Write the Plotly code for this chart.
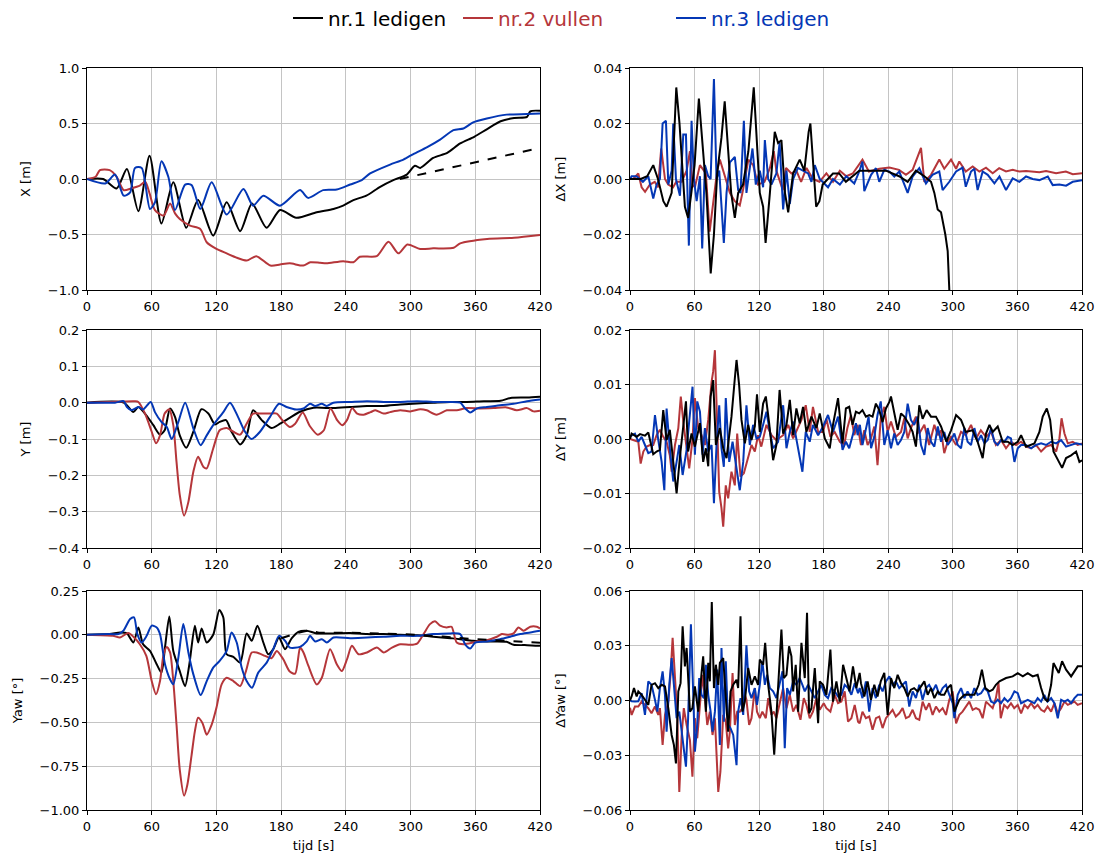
import plotly.graph_objects as go

# ---------------- data ----------------
# X [m]
x1_t = [0, 15, 27.5, 37, 47.6, 58, 69, 80, 92, 103, 117, 129.5, 142, 153, 166.5, 179, 194, 213, 228.5, 237.5, 247, 259, 271.8, 284, 296.5, 304, 309, 321, 334, 346, 359, 371, 383.5, 396, 408, 411, 420]
x1_v = [0, 0, -0.085, 0.09, -0.29, 0.21, -0.40, -0.03, -0.44, -0.19, -0.51, -0.21, -0.47, -0.22, -0.44, -0.28, -0.35, -0.30, -0.27, -0.24, -0.19, -0.15, -0.07, -0.01, 0.04, 0.12, 0.10, 0.19, 0.235, 0.32, 0.38, 0.45, 0.52, 0.55, 0.56, 0.61, 0.615]
x1d_t = [290, 420]
x1d_v = [0.0, 0.28]
x2_t = [0, 8, 12, 21, 27.5, 34, 41, 49, 54, 58, 63, 71, 77, 81.6, 86, 95.5, 105, 111, 120, 129.5, 139, 148, 157, 170, 179, 188, 200.5, 207, 216, 222, 237.5, 247, 253, 268.7, 279.5, 288.7, 297, 308.8, 321, 340, 346, 371, 396, 420]
x2_v = [0, 0.02, 0.08, 0.08, 0.02, -0.10, -0.085, -0.06, -0.025, -0.13, -0.28, -0.33, -0.22, -0.31, -0.36, -0.42, -0.45, -0.57, -0.63, -0.67, -0.71, -0.735, -0.695, -0.78, -0.77, -0.76, -0.78, -0.75, -0.755, -0.76, -0.74, -0.75, -0.70, -0.695, -0.565, -0.67, -0.59, -0.63, -0.625, -0.62, -0.58, -0.54, -0.53, -0.505]
x3_t = [0, 17, 26, 34, 40, 44.5, 50.7, 58.4, 63, 69, 75.4, 81.6, 91, 97, 105, 115.6, 129.5, 145, 154, 163.5, 179, 197.5, 205, 219, 231.6, 244, 254.8, 262.5, 281, 293.4, 302.6, 315, 327.4, 339.7, 349, 358, 370.7, 389, 408, 420]
x3_v = [0, -0.04, 0.04, -0.15, -0.12, 0.10, 0.10, -0.27, -0.21, 0.16, 0.02, -0.28, -0.05, -0.055, -0.27, -0.03, -0.32, -0.09, -0.24, -0.15, -0.24, -0.10, -0.17, -0.10, -0.095, -0.05, -0.01, 0.05, 0.13, 0.175, 0.225, 0.285, 0.355, 0.44, 0.455, 0.51, 0.545, 0.58, 0.585, 0.59]

# dX [m]
dx1_t = [0, 10, 16, 21.6, 26, 31, 34, 38.7, 43, 46, 51, 54, 57, 60, 64, 68, 71, 75, 78, 81, 85, 88, 91, 94, 97.4, 100.5, 105, 110, 115, 118, 120.6, 123.7, 126, 130, 134.5, 137.6, 140.7, 144, 147, 151.5, 157.7, 162, 166, 167.6, 170, 173, 176, 179, 188.6, 194.4, 200.6, 213, 225.4, 237.8, 250, 258, 265.7, 273.5, 279.7, 282.8, 285.9, 289, 293, 295.2, 296.7, 299]
dx1_v = [0, 0, 0.001, 0.005, 0.0, -0.008, -0.010, -0.005, 0.033, 0.020, -0.010, -0.014, -0.005, 0.005, 0.029, 0.010, -0.005, -0.034, -0.020, 0.002, 0.015, 0.028, 0.010, -0.005, -0.014, -0.005, -0.002, 0.010, 0.033, 0.010, -0.005, -0.010, -0.023, -0.005, 0.017, 0.013, 0.014, -0.005, -0.012, 0.002, 0.007, 0.003, 0.017, 0.020, 0.005, -0.010, -0.008, -0.002, 0.002, 0.002, -0.001, 0.003, 0.003, 0.003, 0.001, -0.001, 0.003, 0.001, -0.001, -0.005, -0.011, -0.012, -0.020, -0.026, -0.040, -0.050]
dx2_t = [0, 3, 7.7, 10.8, 14, 18.5, 23, 26, 29, 32.5, 35.5, 40, 43, 48, 52.6, 55.7, 58, 60.3, 65, 70.5, 74, 77, 81, 83.5, 88, 92.8, 97.4, 102, 105, 110, 114.4, 119, 125, 130, 133.6, 136, 142, 145, 150, 154.6, 159, 164, 170, 176, 182.5, 188.6, 195, 201, 207, 216, 222, 231.6, 241, 250, 256.4, 262.6, 270.4, 273.5, 279.7, 287.4, 292, 298.3, 303, 306, 312, 318.4, 324.6, 330.8, 337, 343, 349.4, 355.6, 361.8, 368, 380.4, 386.6, 395.9, 405, 411.4, 420]
dx2_v = [0, 0, 0.002, -0.003, -0.0046, -0.002, -0.001, -0.003, 0.011, 0, -0.002, -0.003, -0.001, -0.001, 0.003, 0.010, -0.002, -0.003, 0.005, 0.002, -0.019, -0.010, 0.003, 0.007, 0.001, -0.005, -0.008, -0.0095, -0.004, 0.007, 0.005, -0.002, -0.001, 0.004, 0.010, 0.003, -0.004, 0.004, 0.002, 0.003, -0.001, 0.004, 0, -0.001, 0.002, -0.001, 0.003, 0.001, 0.002, 0.007, 0.0027, 0.0037, 0.0041, 0.0033, 0.0015, 0.0033, 0.0112, -0.001, 0.0015, 0.007, 0.0037, 0.007, 0.0037, 0.0063, 0.0027, 0.0045, 0.0027, 0.0041, 0.0021, 0.0039, 0.0027, 0.0033, 0.0027, 0.0029, 0.0024, 0.0029, 0.0021, 0.0027, 0.0017, 0.0021]
dx3_t = [0, 1.5, 6, 12, 17, 21.6, 24.7, 27.8, 30.3, 33.4, 35.6, 38.7, 40.2, 42.7, 46.4, 49.5, 52, 54.7, 57.2, 59.4, 61.9, 65, 67.1, 69.6, 72.7, 74.9, 78, 80.4, 82.9, 85, 87.2, 89.7, 92.8, 97.4, 100.5, 102.7, 105.8, 108.2, 110.7, 113.8, 116.9, 120.6, 123.7, 125.3, 128.4, 131.4, 136, 139, 142.3, 145.4, 148.5, 151.6, 156, 160.8, 165.5, 168.6, 171.7, 176.3, 181, 184, 188.6, 195, 201, 207, 208.4, 213, 216, 217.7, 224, 228.5, 231.6, 236.3, 241, 245.6, 250.2, 258, 262.6, 268.8, 275, 281, 287.4, 290.5, 296.7, 303, 309, 312, 316.9, 320, 323, 327.7, 332.4, 338.6, 343.3, 349.4, 355.6, 361.8, 368, 374.2, 380.4, 388.2, 392.8, 399, 405.2, 411.4, 420]
dx3_v = [0, 0.001, 0.001, -0.001, 0.001, -0.007, -0.002, 0, 0.020, 0.021, -0.002, 0.003, 0.020, 0, -0.006, 0.016, 0.016, -0.024, 0.021, 0, -0.008, 0.001, -0.025, 0.005, 0.001, 0, 0.036, 0, 0.003, -0.010, -0.023, -0.005, 0.006, 0.008, -0.004, -0.005, 0.021, -0.005, 0.002, 0.011, -0.002, 0.003, -0.003, 0.014, 0, -0.002, 0.002, 0.013, -0.011, 0.003, -0.009, 0, 0.004, 0.003, 0.002, -0.001, 0.005, 0, -0.002, -0.003, 0, -0.002, 0.001, -0.001, -0.0016, 0.0027, 0.0063, -0.0044, 0.0015, 0.0039, -0.001, 0.0033, 0.0027, 0.0009, 0.0027, -0.005, 0.0009, 0.0039, -0.0016, 0.0015, 0.0027, -0.004, -0.001, 0.0027, 0.0041, -0.0028, 0.0027, 0.0037, -0.004, 0.0027, 0.0015, -0.0016, 0.0009, -0.004, 0.0002, -0.001, 0.0009, 0, -0.0004, 0.0009, -0.0022, -0.002, -0.0024, -0.001, -0.0004]

# Y [m]
y1_t = [0, 34, 43, 47.6, 55, 61.5, 67.7, 72, 77, 81.6, 86, 92, 98.6, 106, 112.5, 118.7, 123, 128.9, 134, 142, 148, 154, 162, 171, 179, 188, 197.5, 210, 228.5, 244, 259.6, 275, 290.5, 306, 321, 336.7, 352, 368, 383.4, 392.7, 408, 420]
y1_v = [0, 0, -0.026, -0.012, -0.035, -0.062, -0.088, -0.076, -0.016, -0.039, -0.09, -0.124, -0.08, -0.018, -0.03, -0.06, -0.053, -0.048, -0.08, -0.115, -0.09, -0.021, -0.048, -0.07, -0.058, -0.042, -0.025, -0.014, -0.015, -0.012, -0.009, -0.009, -0.005, -0.002, 0, 0.002, 0.002, 0.004, 0.005, 0.013, 0.014, 0.016]
y2_t = [0, 20, 44.5, 47.6, 53.8, 60, 64, 67.7, 72, 76.3, 80, 83, 86, 90, 94, 98.6, 103, 108, 111, 117, 123, 129.5, 135.7, 142, 148, 154, 162, 169.7, 176, 180.5, 188, 193, 200, 206.7, 214, 219.6, 225.7, 231.9, 236.6, 241, 245.8, 250.5, 256.6, 263, 267.4, 275, 281, 290.5, 299.7, 309, 315, 324, 333.6, 342.8, 352, 364.6, 377, 389, 398.5, 408, 414, 420]
y2_v = [0, 0.002, 0.004, 0.002, -0.03, -0.08, -0.112, -0.09, -0.03, -0.018, -0.062, -0.163, -0.254, -0.311, -0.273, -0.19, -0.149, -0.177, -0.181, -0.126, -0.076, -0.07, -0.08, -0.088, -0.058, -0.03, -0.03, -0.03, -0.03, -0.046, -0.067, -0.058, -0.027, -0.065, -0.088, -0.076, -0.016, -0.048, -0.062, -0.048, -0.015, -0.03, -0.033, -0.026, -0.021, -0.03, -0.026, -0.021, -0.024, -0.018, -0.021, -0.033, -0.021, -0.021, -0.015, -0.016, -0.015, -0.013, -0.021, -0.015, -0.024, -0.022]
y3_t = [0, 26, 34, 37, 41.4, 47.6, 52, 59, 63, 69, 74, 78.5, 84.7, 91, 98.6, 105.4, 111, 117, 126.4, 132.6, 140, 146.5, 152.7, 160.4, 169.7, 178, 185, 194, 200.7, 206.8, 211.5, 217.7, 222.3, 228.5, 244, 259.6, 275, 290.5, 306, 321, 336.7, 346, 350.6, 355.3, 361.4, 370.7, 383, 395.5, 408, 420]
y3_v = [0, 0, 0.004, -0.012, -0.021, -0.012, -0.019, 0.002, -0.026, -0.053, -0.067, -0.10, -0.053, 0, -0.071, -0.117, -0.09, -0.062, -0.026, 0, -0.039, -0.08, -0.10, -0.08, -0.039, -0.003, -0.012, -0.019, -0.016, -0.003, -0.009, -0.003, -0.009, 0, 0.002, 0.004, 0.002, 0.002, 0.004, 0.002, 0.002, 0, -0.016, -0.027, -0.016, -0.012, -0.007, -0.003, 0.004, 0.009]

# dY [m]
dy1_t = [0, 1.5, 6.2, 9.3, 13.9, 17, 21.6, 24.7, 27.8, 30.9, 34, 37, 40.2, 43.3, 46.4, 49.5, 52, 54, 57.2, 60.3, 65, 68, 70.5, 72.7, 74.9, 77.3, 79.8, 83.5, 86.6, 89.7, 94.3, 97.4, 99, 101.4, 103.6, 106.7, 109.8, 112.9, 116, 118, 120.6, 123.7, 126.2, 129.3, 133, 136, 139, 142.3, 145.4, 148.5, 151.6, 154.6, 157.7, 160.8, 163.9, 168.6, 173.2, 176.3, 181, 185.6, 188.6, 193.3, 197.5, 200.6, 203.7, 206.8, 209.9, 213, 216, 219.2, 222.3, 225.4, 228.5, 231.6, 234.7, 237.8, 241, 242.5, 245.6, 248.7, 251.8, 254.9, 259.5, 262.6, 265.7, 268.8, 271.9, 275.6, 279.7, 284.3, 289, 294, 298.3, 303, 307.6, 312, 318.4, 323, 327.7, 330.8, 334, 337, 341.7, 346.3, 351, 355.6, 360.3, 363.4, 368, 372.7, 375.8, 380.4, 383.5, 387.3, 390.4, 393.5, 397.5, 401.5, 405.2, 409.9, 414.5, 417.6, 420]
dy1_v = [0, 0.001, 0.0004, 0.0009, 0.0006, 0.0012, -0.0028, -0.0023, -0.002, 0.0053, -0.0002, 0.0017, -0.0042, -0.01, -0.0033, 0.0023, 0.0069, -0.0023, 0.001, -0.0014, 0.0029, -0.0042, -0.0017, -0.005, 0.0078, 0.0108, -0.0011, 0.002, -0.0017, -0.0035, 0.0041, 0.0111, 0.0145, 0.0099, 0.0035, -0.0008, 0.0026, -0.0002, 0.0023, 0.0082, 0.0013, 0.0065, 0.0078, 0.0029, -0.0039, -0.0011, 0.009, 0.001, 0.0026, 0.0072, 0.0007, 0.0056, 0.0029, 0.0059, 0.0013, 0.0041, 0.002, 0.0047, 0.0001, -0.0017, 0.0026, 0.0075, -0.0008, 0.0056, 0.0059, 0.0026, 0.005, 0.0047, 0.0053, 0.0041, 0.0044, 0.0041, 0.0065, 0.0053, 0.0031, 0.0056, 0.0068, 0.0078, 0.0044, 0.0017, 0.0047, 0.0041, 0.0026, 0.0013, -0.0014, 0.0062, 0.0037, 0.0053, 0.0041, 0.0041, 0.0023, -0.0005, 0.0016, 0.0044, 0.0035, 0.0013, 0.0016, -0.0005, -0.0035, 0.001, 0.0026, 0.0013, 0.0023, -0.0005, -0.0005, -0.0011, -0.0005, 0.0007, -0.0014, -0.0011, -0.0008, 0.0013, 0.0041, 0.0056, 0.0035, -0.0023, -0.0039, -0.0053, -0.0035, -0.003, -0.0023, -0.0042, -0.0039]
dy2_t = [0, 1.5, 4.6, 7.7, 9.9, 12.4, 15.5, 18.6, 21.6, 24.7, 27.8, 30.9, 34, 37, 38.7, 41.8, 44.9, 47.2, 49.5, 52.6, 55, 58, 60.3, 63.4, 66.5, 69.6, 72.7, 75.8, 77.3, 78.9, 81, 82.9, 85, 86.6, 89, 91.2, 94.3, 97.4, 99.6, 102.7, 105.8, 109.8, 112.9, 116, 119, 122, 126.8, 131.5, 136, 142.3, 147, 151.6, 156.2, 159.3, 163.3, 167, 170, 174.8, 179.4, 182.5, 186.2, 190.2, 195, 199, 202, 205.3, 208.4, 211.5, 214.6, 217.7, 220.8, 223.9, 227, 230, 233, 236.3, 239.4, 242.5, 247, 251.8, 254.9, 258, 261, 265.7, 268.8, 273.5, 278, 282.8, 286, 289, 292, 295.2, 298.3, 303, 307.6, 312, 316.9, 321.5, 326, 330.8, 335.5, 340, 344.8, 349.4, 354, 358.7, 363.4, 368, 372.7, 377.3, 382, 386.6, 391.3, 396, 399, 401, 403.7, 406.8, 411.4, 416, 420]
dy2_v = [0, -0.0001, -0.0002, -0.0005, -0.0045, -0.0023, -0.0014, -0.0011, -0.0011, 0.0007, 0.0017, 0.0004, -0.0005, -0.003, -0.006, -0.0011, 0.002, 0.0078, 0.0032, -0.0023, -0.0054, -0.0002, 0.0075, 0.002, 0.0007, -0.0011, 0.0035, 0.0105, 0.0124, 0.0163, 0.0032, -0.0097, -0.0127, -0.0161, -0.0085, -0.0109, -0.006, -0.0085, 0.001, -0.0069, -0.0063, -0.0035, -0.0011, -0.0023, 0.0007, -0.0014, 0.0026, 0.0007, -0.0002, 0.0007, 0.0026, 0.0001, 0.002, 0.0035, 0.0062, 0.0013, 0.0059, 0.0013, 0.0013, 0.0037, 0.0004, 0.0013, -0.0005, -0.0011, 0.002, 0.0044, 0.0007, 0.0026, -0.0011, 0.0016, -0.0011, 0.0001, 0.0023, -0.0048, 0.0038, 0.0059, 0.0013, 0.0032, 0.0004, 0.0013, 0.0038, 0.0001, 0.002, 0.0041, 0.001, 0.0026, -0.0011, 0.0026, 0.0007, 0.0016, -0.0026, -0.0005, 0.0004, -0.0011, 0.0013, 0.0007, 0.0026, 0.0001, 0.0016, 0.0004, 0.0013, -0.0011, -0.0002, -0.0017, -0.0005, -0.0011, -0.0005, -0.0014, -0.0017, -0.0011, -0.0023, -0.0014, -0.0011, -0.0023, 0.0001, 0.0038, 0.001, -0.0008, -0.0005, -0.0011, -0.0008]
dy3_t = [0, 1.5, 4.6, 7.7, 10.8, 13.9, 17, 20, 23.2, 26.3, 29.4, 31.9, 34, 37, 40.2, 43.3, 45.8, 48.9, 52.6, 55, 58.1, 60.3, 62.5, 65, 67.4, 69.6, 72.7, 75.8, 78, 80.4, 82.9, 85, 87.2, 89, 92.2, 95.3, 98.4, 102, 105.2, 108.2, 111.3, 114.4, 117.5, 120.6, 123.7, 126.8, 130, 133, 137.6, 142.3, 145.4, 148.5, 151.6, 154.6, 157.7, 160.2, 163.3, 167, 170, 174.8, 179.4, 184, 188.6, 193.3, 197.5, 200.6, 203.7, 206.8, 209.9, 211.5, 213.6, 216, 219.2, 221.7, 224, 227, 230, 233, 236.3, 239.4, 242.5, 245.6, 248.7, 251.8, 254.9, 258, 261, 264, 267.3, 270.4, 273.5, 276.6, 279.7, 282.8, 286, 289, 292, 295.2, 298.3, 301.4, 304.5, 307.6, 310.7, 313.7, 316.9, 320, 323, 326.2, 329.3, 332.4, 335.5, 338.6, 341.7, 344.8, 347.9, 351, 354, 357.2, 360.3, 363.4, 368, 372.7, 377.3, 382, 386.6, 391.3, 396, 400.6, 405.2, 409.9, 414.5, 420]
dy3_v = [0.0005, 0.0007, 0.001, -0.0005, 0.0004, -0.0011, -0.0026, -0.0023, 0.0044, -0.0002, -0.0042, -0.0094, 0.0056, -0.0017, -0.0078, -0.0042, -0.0011, -0.0066, -0.002, 0.0032, 0.0096, -0.0029, 0.0069, 0.005, -0.0029, 0.002, -0.0023, -0.0011, -0.0118, -0.0011, 0.0062, -0.0017, -0.0051, 0.0075, -0.0042, -0.0005, -0.0048, -0.0094, -0.0042, 0.0062, -0.0011, 0.0026, 0.0001, 0.0004, 0.0026, 0.005, 0.0013, -0.0017, -0.0005, 0.0062, -0.0017, 0.0013, 0.0032, 0.0001, -0.0029, -0.006, 0.0013, -0.0005, 0.0026, 0.0007, 0.0023, 0.0044, 0.0013, 0.0041, -0.002, -0.0005, -0.0017, 0.0004, 0.0029, 0.0007, 0.0026, -0.0011, 0.002, 0.0041, -0.0017, 0.0004, 0.0044, 0.0069, -0.0011, 0.0016, -0.0017, 0.001, -0.0011, -0.0002, 0.0013, 0.0065, 0.0035, 0.0026, 0.0041, -0.0011, -0.0029, 0.002, -0.0005, -0.0014, 0.0023, -0.0005, 0.0013, -0.0011, -0.0002, 0.001, -0.0011, -0.0017, 0.002, -0.0005, -0.0011, 0.002, -0.0005, 0.0007, -0.0008, -0.0002, 0.002, -0.0005, -0.0011, -0.0002, -0.0005, 0.0004, 0.0001, -0.0042, -0.0017, -0.0011, -0.0011, -0.0017, -0.0011, -0.0008, -0.0011, -0.0005, -0.0008, -0.0002, -0.0014, -0.0011, -0.0008, -0.001]

# Yaw [deg]
yaw1_t = [0, 21, 30.6, 37, 43, 47.6, 52, 58.4, 64.6, 69, 72.3, 76.3, 80, 86, 90.9, 94.9, 100, 103, 106.3, 111, 117, 122.7, 126.4, 129.5, 135.7, 142, 148, 152.7, 158, 163.5, 168, 172.7, 178, 183.6, 189.7, 196, 203.7, 213, 228.5, 244, 259.6, 275, 290.5, 306, 321, 337, 346, 358, 370.7, 389, 395.5, 408, 420]
yaw1_v = [0, 0.004, 0.013, 0.008, -0.044, 0.042, -0.054, -0.092, -0.168, -0.216, -0.073, 0.105, -0.092, -0.207, -0.293, -0.168, 0.052, -0.044, 0.036, -0.044, 0, 0.142, 0.099, -0.111, -0.126, -0.159, 0.008, -0.034, 0.052, -0.044, -0.111, -0.082, -0.015, -0.082, -0.021, 0.017, 0.023, 0.008, 0.008, 0.01, 0.004, 0.004, 0, -0.002, -0.011, -0.019, -0.025, -0.034, -0.038, -0.04, -0.057, -0.059, -0.063]
yaw1d_t = [180, 195, 205, 215, 240, 270, 300, 330, 360, 390, 420]
yaw1d_v = [-0.02, 0.01, 0.025, 0.012, 0.012, 0.008, 0.002, -0.01, -0.025, -0.035, -0.045]
yaw2_t = [0, 24, 30.6, 38.3, 43, 49, 55, 60, 64, 67.7, 70.8, 74, 77, 80, 83, 86, 90, 93, 97, 100, 103, 107, 111, 115.6, 120, 124.8, 129.5, 135.7, 142, 147.4, 152.7, 157.3, 165, 171, 176, 182, 188, 193, 197.6, 200.7, 205.3, 213, 217.7, 225.4, 231.6, 236.3, 241, 245.6, 251.8, 259.6, 268.8, 275, 282.8, 290.5, 299.7, 306, 312, 318, 322.7, 327.4, 333.5, 338, 342.8, 349, 358, 364.4, 370.7, 380, 384.6, 390.8, 395.5, 400, 404.7, 411, 417, 420]
yaw2_v = [0, -0.006, -0.015, 0.01, -0.011, -0.054, -0.12, -0.264, -0.34, -0.264, -0.12, -0.069, -0.10, -0.264, -0.513, -0.77, -0.918, -0.857, -0.685, -0.551, -0.474, -0.503, -0.57, -0.513, -0.417, -0.283, -0.245, -0.264, -0.293, -0.207, -0.101, -0.101, -0.12, -0.134, -0.092, -0.14, -0.21, -0.222, -0.073, -0.101, -0.178, -0.283, -0.245, -0.082, -0.168, -0.207, -0.141, -0.063, -0.111, -0.101, -0.073, -0.101, -0.073, -0.054, -0.057, -0.05, 0.004, 0.061, 0.077, 0.052, 0.042, 0.046, -0.044, -0.054, -0.044, -0.034, -0.031, -0.011, 0.004, 0, 0.008, 0.042, 0.023, 0.046, 0.046, 0.036]
yaw3_t = [0, 21, 29, 33.7, 40, 43.6, 46.7, 50.7, 55.3, 60, 64.6, 67.7, 72.3, 77, 80, 84.7, 89.3, 94, 98.6, 105.4, 111, 117, 123, 129.5, 134, 138.8, 143.4, 148, 153, 158.8, 166.6, 172.7, 178, 183.6, 188, 197.5, 203.7, 206.8, 211.5, 217.7, 222.3, 228.5, 244, 259.6, 275, 290.5, 306, 321, 336.6, 346, 350.6, 355.3, 360, 370.7, 383, 392.4, 401.7, 411, 420]
yaw3_v = [0, 0.004, 0.004, 0.023, 0.09, 0.099, 0.004, -0.044, -0.006, 0.052, 0.042, 0.004, -0.168, -0.254, -0.283, -0.130, 0.061, -0.101, -0.226, -0.344, -0.264, -0.187, -0.149, -0.092, 0.013, -0.044, -0.187, -0.264, -0.302, -0.216, -0.159, -0.082, -0.006, -0.034, -0.073, -0.069, -0.038, -0.006, -0.038, -0.025, -0.044, -0.015, -0.019, -0.015, -0.011, -0.006, -0.006, 0.004, 0.008, 0.004, -0.054, -0.078, -0.044, -0.038, -0.025, -0.011, 0.004, 0.013, 0.023]

# dYaw [deg]
dyaw1_t = [0, 1.5, 3.7, 6.2, 7.7, 10.8, 13.9, 17, 20, 23.2, 26.3, 29.4, 32.5, 35.6, 38.7, 40.8, 42.7, 44.9, 47, 48.9, 51, 52.6, 55.7, 58, 60.3, 63.4, 66.5, 68, 70.5, 72.7, 74.2, 76, 78, 79.8, 82, 83.5, 86.6, 89, 91.2, 93.4, 95.9, 99, 100.5, 102.7, 104.5, 106.7, 109.8, 112.9, 116, 119, 120.6, 123.7, 125.6, 128.4, 131.4, 134, 136, 138.6, 140.7, 142.9, 145.4, 147.8, 150, 151.6, 154, 156.2, 159.3, 162.4, 164.5, 166.4, 168.6, 171.7, 174.8, 176.3, 179.4, 182.5, 186.2, 188.6, 191.8, 194.9, 198, 201, 204, 207.2, 210.3, 213.4, 214.6, 217.7, 220.8, 223.9, 227, 230, 233, 236.3, 239.4, 242.5, 245.6, 248.7, 251.8, 254.9, 258, 261, 264, 267.3, 270.4, 273.5, 276.6, 279.7, 282.8, 286, 289, 292, 295.2, 298.3, 301.4, 306, 310.7, 315.3, 320, 324, 327, 330.2, 334, 337, 340, 343.3, 349.4, 355.6, 360.3, 365, 369.6, 374.2, 378.8, 382, 385, 388, 391.3, 393.5, 396, 398.4, 401.5, 405.2, 409.9, 413, 416, 420]
dyaw1_v = [0, 0.0022, 0.0068, 0.0022, 0.005, 0.0031, 0.0004, -0.0024, 0.0086, 0.0095, 0.0068, 0.0086, 0.0077, -0.0042, -0.0189, -0.0244, -0.0345, 0.005, 0.0095, 0.0407, 0.0187, 0.0288, -0.0061, -0.0042, 0.0077, -0.0061, 0.0151, 0.0242, -0.0061, 0.0206, 0.0105, 0.054, 0.0068, 0.0196, 0.0086, 0.0206, 0.0233, 0.0031, -0.0171, 0.005, 0.0086, 0.0114, 0.0068, 0.0462, -0.0061, -0.0006, 0.0178, 0.0086, 0.0132, 0.0086, 0.0224, 0.0196, 0.0316, 0.0086, -0.0061, -0.0297, -0.0097, 0.016, 0.0389, 0.0123, 0.0141, 0.0297, 0.0242, 0.005, 0.0196, -0.0061, 0.0316, 0.0123, 0.0481, -0.007, -0.0042, 0.0178, -0.0125, 0.0105, 0.0086, 0.0031, 0.0279, -0.0006, 0.0105, -0.0006, 0.0196, 0.0123, 0.005, 0.0187, 0.0068, 0.0151, 0.0095, 0.0022, 0.0105, 0.0004, 0.0086, 0.0022, 0.0105, 0.0151, -0.0079, 0.0123, 0.0068, 0.0141, 0.0095, 0.0068, 0.0022, 0.0059, 0.0068, 0.005, 0.0077, 0.0105, 0.0031, 0.0068, 0.0013, 0.005, 0.0031, 0.0031, 0.0068, 0.0086, -0.0061, 0.0004, 0.0031, 0.0031, 0.0031, 0.0086, 0.0169, 0.0068, 0.005, 0.0059, 0.0086, 0.0105, 0.0123, 0.0132, 0.015, 0.0132, 0.015, 0.0132, 0.0141, 0.0068, 0.0013, -0.0006, 0.0086, 0.0205, 0.0178, 0.0151, 0.0215, 0.0169, 0.0132, 0.016, 0.0187, 0.0187]
dyaw2_t = [0, 1.5, 4.6, 7.7, 10.8, 13.9, 17, 20, 23.2, 26.3, 27.8, 30.3, 32.5, 35.6, 37.7, 39.6, 41.8, 43.9, 45.8, 48, 50, 52.6, 55.7, 58, 60.3, 62.5, 65, 67.4, 69.6, 71.8, 74.2, 76.7, 78.9, 82, 84, 86.6, 89, 91.2, 92.8, 95.3, 97.4, 99.6, 102, 104.5, 106.7, 108.2, 110.7, 112.9, 116, 118, 120.6, 123, 126.2, 128.4, 131.4, 133.6, 136, 139, 142.3, 145.4, 148.5, 151.6, 154.6, 158.4, 161.5, 163.9, 167, 170, 173.2, 176.3, 180, 182.5, 186.2, 190.2, 193.3, 196.4, 199.5, 202.6, 205.7, 208.8, 211.9, 213.4, 216, 219.2, 222.3, 225.4, 228.5, 231.6, 234.7, 237.8, 241, 244, 247, 250.2, 253.3, 256.4, 259.5, 262.6, 265.7, 268.8, 271.9, 275, 278, 281.2, 284.3, 287.4, 290.5, 293.6, 296.7, 299.8, 303, 306, 309, 312, 315.3, 318.4, 321.5, 324.6, 327.7, 330.8, 334, 337, 340, 342.4, 344.5, 347.6, 350.8, 354, 357, 360.3, 363.4, 366.5, 369.6, 372.7, 375.8, 378.8, 382, 385, 388, 391.3, 394.4, 397.5, 400.6, 403.7, 406.8, 409.9, 413, 416, 420]
dyaw2_v = [-0.004, -0.0079, -0.0033, -0.0033, -0.0006, -0.0024, -0.0042, -0.007, -0.0033, -0.0079, -0.0042, -0.0244, -0.0079, -0.0006, 0.0141, 0.0343, 0.0086, -0.0079, -0.0501, -0.0189, -0.0042, -0.0134, -0.0217, -0.0418, -0.0097, -0.0207, -0.0024, 0.0141, 0.0013, -0.0134, -0.0061, -0.0189, -0.0097, -0.0501, -0.039, -0.0079, -0.0116, -0.0262, -0.0171, 0.0151, -0.0134, -0.0061, -0.0061, -0.0042, 0.0031, 0.0004, -0.0134, -0.0097, 0.0068, -0.0061, -0.0097, -0.0061, -0.0097, 0.0013, -0.0079, -0.0061, -0.0097, -0.0024, 0.0068, -0.0042, 0.0031, -0.0061, -0.0024, -0.0106, 0.0013, -0.0024, -0.0097, -0.0061, 0.0013, -0.0051, -0.0015, -0.0042, -0.0061, 0.0031, -0.0015, -0.0006, 0.005, -0.0116, -0.0097, -0.0024, -0.0116, -0.0125, -0.0061, -0.0097, -0.0088, -0.016, -0.0097, -0.0088, -0.0151, -0.0097, -0.007, -0.0051, -0.0088, -0.007, -0.0042, -0.0097, -0.0088, -0.0051, -0.0097, -0.0106, -0.0006, -0.0051, -0.0015, -0.0079, -0.0033, -0.0061, -0.0042, -0.0079, 0.0004, 0.005, -0.0125, -0.0079, -0.0061, -0.0033, -0.0006, -0.0051, -0.0042, -0.0051, -0.0097, -0.0006, -0.0024, -0.0042, 0.0013, 0.0095, -0.0097, -0.0024, -0.0042, -0.0015, -0.0042, -0.0024, -0.007, -0.0024, -0.0042, -0.0015, -0.0042, -0.0024, -0.0051, -0.0061, -0.0033, -0.0061, -0.0015, -0.007, -0.0042, -0.0006, -0.0024, -0.0015, -0.0006, -0.0024, -0.0015]
dyaw3_t = [0, 1.5, 4.6, 7.7, 10.8, 13.9, 17, 20, 23.2, 25.4, 27.8, 30.3, 32.5, 34, 36.5, 38.7, 40.8, 43.3, 45.8, 48, 50, 52, 54, 56.6, 58.8, 60.3, 62.5, 64.3, 66.5, 68.7, 70.5, 72.7, 74.9, 76.7, 78.9, 81, 83.5, 85, 87.2, 89, 91.2, 93.4, 95.9, 99, 100.5, 102.7, 105.2, 108.2, 110.7, 112.9, 116, 118, 120.6, 123, 125.3, 127.4, 130, 133, 136, 138.6, 141.7, 143.8, 146, 148.5, 151.6, 154.6, 157.7, 160.2, 162.4, 165.5, 168.6, 171.7, 174.8, 177.8, 181, 184, 187, 190.2, 193.3, 196.4, 199.5, 202.6, 205.7, 208.8, 211.9, 213.4, 216, 219.2, 222.3, 225.4, 228.5, 231.6, 234.7, 237.8, 241, 244, 247, 250.2, 253.3, 256.4, 259.5, 262.6, 265.7, 268.8, 271.9, 275, 278, 281.2, 284.3, 287.4, 290.5, 293.6, 296.7, 299.8, 301.4, 304.5, 307.6, 310.7, 313.7, 316.9, 320, 323, 326.2, 329.3, 332.4, 335.5, 338.6, 341.7, 344.8, 347.9, 351, 354, 357.2, 360.3, 363.4, 366.5, 369.6, 372.7, 375.8, 378.8, 382, 385, 388, 391.3, 394.4, 397.5, 400.6, 403.7, 406.8, 409.9, 413, 416, 420]
dyaw3_v = [0, -0.0004, -0.0006, -0.0004, 0.004, -0.0079, 0.0105, 0.0086, 0.0004, -0.0061, 0.0068, 0.016, 0.0031, -0.0171, 0.0086, 0.0233, 0.0086, -0.0097, -0.0061, -0.0171, -0.0281, -0.0363, -0.0097, 0.0417, 0.0031, -0.0281, -0.0134, 0.0123, 0.0031, 0.0013, 0.0196, 0.0031, -0.0061, -0.0171, -0.0061, 0.0169, -0.0244, 0.0288, -0.0116, 0.0215, -0.0134, -0.0152, -0.0189, -0.0354, -0.0061, 0.0013, -0.0079, 0.0303, 0.005, 0.0013, 0.0068, -0.0024, 0.0086, 0.0215, 0.0086, 0.0141, 0.0068, 0.005, 0.0013, 0.0086, 0.016, -0.0262, 0.0068, 0.0031, 0.0105, 0.0086, 0.0123, 0.0086, 0.005, 0.0086, 0.005, 0.0013, 0.005, 0.0086, 0.0031, 0.0013, 0.0068, 0.005, 0.0022, 0.0031, 0.0086, 0.0068, 0.0031, 0.0095, 0.004, 0.0068, 0.0013, 0.0105, -0.0061, 0.0068, 0.0013, 0.0086, 0.005, 0.0105, 0.0132, 0.0086, 0.0105, 0.0068, 0.0086, 0.0105, -0.0033, 0.005, 0.0013, 0.0086, 0.0004, 0.0068, 0.0086, 0.005, 0.0086, 0.0031, 0.0068, 0.0086, 0.0031, -0.0015, -0.0097, 0.0031, 0.0068, 0.0013, 0.005, 0.0013, 0.0068, 0.0031, 0.004, 0.0068, 0.005, -0.0006, -0.0015, 0.0004, -0.0015, 0.0013, -0.0006, 0.0013, 0.005, 0.004, -0.0015, -0.0006, 0.0004, -0.0006, -0.0015, 0.0013, -0.0006, 0.0031, -0.0006, 0.0013, -0.0015, -0.0097, 0.0004, -0.0006, 0.0004, -0.0015, 0.0013, 0.0031, 0.0031]

series_names = ["nr.1 ledigen", "nr.2 vullen", "nr.3 ledigen"]
series_colors = ["#000000", "#b5363a", "#0437b5"]
x_ticks = [0, 60, 120, 180, 240, 300, 360, 420]

# ---------------- figure ----------------
W, H = 1100, 857
fig = go.Figure()

left_dom = [87 / W, 540 / W]
right_dom = [630 / W, 1082 / W]
row_dom = [[1 - 290 / H, 1 - 68 / H], [1 - 548 / H, 1 - 330 / H], [1 - 810 / H, 1 - 591 / H]]

panels = [
    (0, 0, "X [m]", [-1.0, 1.0], 0.5, ".1f", [(x1_t, x1_v), (x2_t, x2_v), (x3_t, x3_v)], (x1d_t, x1d_v)),
    (1, 0, "ΔX [m]", [-0.04, 0.04], 0.02, ".2f", [(dx1_t, dx1_v), (dx2_t, dx2_v), (dx3_t, dx3_v)], None),
    (0, 1, "Y [m]", [-0.4, 0.2], 0.1, ".1f", [(y1_t, y1_v), (y2_t, y2_v), (y3_t, y3_v)], None),
    (1, 1, "ΔY [m]", [-0.02, 0.02], 0.01, ".2f", [(dy1_t, dy1_v), (dy2_t, dy2_v), (dy3_t, dy3_v)], None),
    (0, 2, "Yaw [°]", [-1.0, 0.25], 0.25, ".2f", [(yaw1_t, yaw1_v), (yaw2_t, yaw2_v), (yaw3_t, yaw3_v)], (yaw1d_t, yaw1d_v)),
    (1, 2, "ΔYaw [°]", [-0.06, 0.06], 0.03, ".2f", [(dyaw1_t, dyaw1_v), (dyaw2_t, dyaw2_v), (dyaw3_t, dyaw3_v)], None),
]

font_fam = "DejaVu Sans"
FS = 13
axis_common = dict(showline=True, linecolor="black", linewidth=1, mirror=True,
                   ticks="outside", ticklen=4, tickcolor="black", tickwidth=1,
                   showgrid=True, gridcolor="#c4c4c4", gridwidth=1, zeroline=False,
                   automargin=False,
                   tickfont=dict(family=font_fam, size=FS, color="black"))

legend_ids = ["legend", "legend2", "legend3"]

for i, (col, row, title, yr, dt, fmt, series, dashed) in enumerate(panels):
    n = i + 1
    xa = "x" if n == 1 else f"x{n}"
    ya = "y" if n == 1 else f"y{n}"
    order = [1, 2, 0] if col == 1 else [0, 1, 2]
    shape = "spline" if col == 0 else "linear"
    for k in order:
        t, v = series[k]
        fig.add_trace(go.Scatter(x=t, y=v, mode="lines", xaxis=xa, yaxis=ya,
                                 line=dict(color=series_colors[k], width=2, shape=shape,
                                           smoothing=0.7 if shape == "spline" else None),
                                 name=f"<span style='color:{series_colors[k]}'>{series_names[k]}</span>",
                                 legend=legend_ids[k], showlegend=(n == 1)))
    if dashed is not None:
        fig.add_trace(go.Scatter(x=dashed[0], y=dashed[1], mode="lines", xaxis=xa, yaxis=ya,
                                 line=dict(color="black", width=2, dash="dash"),
                                 showlegend=False))
    xkey = "xaxis" if n == 1 else f"xaxis{n}"
    ykey = "yaxis" if n == 1 else f"yaxis{n}"
    fig.layout[xkey] = dict(axis_common, domain=left_dom if col == 0 else right_dom,
                            range=[0, 420], tickvals=x_ticks, anchor=ya,
                            title=dict(text="tijd [s]" if row == 2 else "",
                                       font=dict(family=font_fam, size=FS, color="black"),
                                       standoff=8))
    fig.layout[ykey] = dict(axis_common, domain=row_dom[row], range=yr, dtick=dt, tick0=0,
                            tickformat=fmt, anchor=xa,
                            title=dict(text=title, font=dict(family=font_fam, size=FS, color="black"),
                                       standoff=14))

# one legend box per series so each entry sits where the reference has it
legend_text_x = [330, 500, 713]
leg_common = dict(orientation="h", yanchor="middle", y=1 - 18 / H, xanchor="left",
                  font=dict(family=font_fam, size=20), bgcolor="rgba(0,0,0,0)",
                  borderwidth=0, itemwidth=30)
fig.update_layout(
    width=W, height=H,
    margin=dict(l=0, r=0, t=0, b=0, autoexpand=False),
    paper_bgcolor="white", plot_bgcolor="white",
    font=dict(family=font_fam, color="black"),
    showlegend=True,
    legend=dict(leg_common, x=(legend_text_x[0] - 42) / W),
    legend2=dict(leg_common, x=(legend_text_x[1] - 42) / W),
    legend3=dict(leg_common, x=(legend_text_x[2] - 42) / W),
)

fig.write_html("out.html")
